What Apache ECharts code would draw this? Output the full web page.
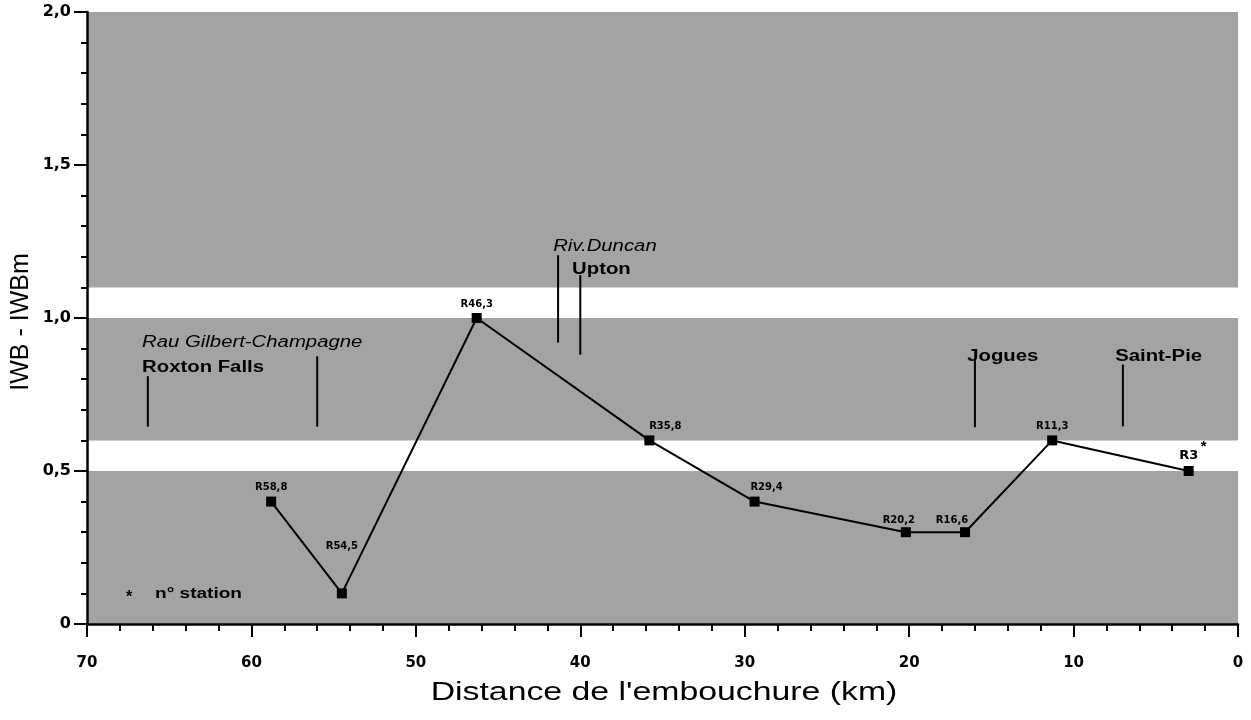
<!DOCTYPE html>
<html>
<head>
<meta charset="utf-8">
<title>IWB - IWBm</title>
<script src="https://cdn.jsdelivr.net/npm/echarts@6/dist/echarts.min.js"></script>
<style>
  html, body { margin: 0; padding: 0; background: #fff; }
  #chart { width: 1251px; height: 720px; }
</style>
</head>
<body>
<div id="chart"></div>
<script>
// Stations along the river: distance from the mouth (km) and IWB - IWBm value
const stationKm = [58.8, 54.5, 46.3, 35.8, 29.4, 20.2, 16.6, 11.3, 3.0];
const stationIWB = [0.4, 0.1, 1.0, 0.6, 0.4, 0.3, 0.3, 0.6, 0.5];
const stationNames = ['R58,8', 'R54,5', 'R46,3', 'R35,8', 'R29,4', 'R20,2', 'R16,6', 'R11,3', 'R3'];

// Towns and tributaries marked along the river (km from the mouth)
const placeNames = ['Roxton Falls', 'Rau Gilbert-Champagne', 'Riv.Duncan', 'Upton', 'Jogues', 'Saint-Pie'];
const placeKm = [66.3, 56.0, 41.35, 40.0, 16.0, 7.0];

// Shaded IWB - IWBm classes
const bandLow = [0, 0.6, 1.1];
const bandHigh = [0.5, 1.0, 2.0];

// Axis ticks
const xTicks = [70, 60, 50, 40, 30, 20, 10, 0];
const yTicks = [0, 0.5, 1.0, 1.5, 2.0];

// ---- drawing ----
const chart = echarts.init(document.getElementById('chart'), null, { renderer: 'canvas' });

const TEXT_FONT = '"Liberation Sans", Arial, sans-serif';
const TICK_FONT = '"DejaVu Sans", sans-serif';
const STRETCH = 1.27;

// label nudges for the station names (pixels)
const stationLabelOffset = { 1: [0, -33], 3: [16, 0], 4: [12, 0], 5: [-7, 2], 6: [-13, 2] };

// marker line extent and caption anchor for each place (in axis units)
const placeLayout = [
  { top: 0.81, bottom: 0.645, textKm: 66.65, textY: 0.838, weight: 'bold', style: 'normal' },
  { top: 0.875, bottom: 0.645, textKm: 66.65, textY: 0.92, weight: 'normal', style: 'italic' },
  { top: 1.205, bottom: 0.92, textKm: 41.65, textY: 1.233, weight: 'normal', style: 'italic' },
  { top: 1.14, bottom: 0.88, textKm: 40.5, textY: 1.158, weight: 'bold', style: 'normal' },
  { top: 0.865, bottom: 0.643, textKm: 16.47, textY: 0.874, weight: 'bold', style: 'normal' },
  { top: 0.848, bottom: 0.646, textKm: 7.47, textY: 0.874, weight: 'bold', style: 'normal' }
];

const stationData = stationKm.map((km, i) => {
  const item = { value: [km, stationIWB[i]], name: stationNames[i] };
  if (stationLabelOffset[i]) item.label = { offset: stationLabelOffset[i] };
  if (i === stationKm.length - 1) item.label = { fontSize: 13 };
  return item;
});

const bandAreas = bandLow.map((lo, i) => [{ yAxis: lo }, { yAxis: bandHigh[i] }]);

const yFmt = v => (v === 0 ? '0' : v.toFixed(1).replace('.', ','));

const option = {
  animation: false,
  backgroundColor: '#ffffff',
  grid: { left: 87, right: 13, top: 12, bottom: 96, containLabel: false, outerBoundsMode: 'none' },
  xAxis: {
    type: 'value',
    inverse: true,
    min: 0,
    max: 70,
    interval: 10,
    z: 10,
    axisLine: { onZero: false, lineStyle: { color: '#000', width: 2.5 } },
    axisTick: { show: true, length: 13, lineStyle: { color: '#000', width: 2 } },
    minorTick: { show: true, splitNumber: 5, length: 7, lineStyle: { color: '#000', width: 2 } },
    splitLine: { show: false },
    minorSplitLine: { show: false },
    axisLabel: {
      color: '#000', fontFamily: TICK_FONT, fontWeight: 'bold', fontSize: 15, margin: 32,
      formatter: v => (xTicks.indexOf(v) >= 0 ? String(v) : '')
    }
  },
  yAxis: {
    type: 'value',
    position: 'left',
    min: 0,
    max: 2,
    interval: 0.5,
    z: 10,
    axisLine: { show: true, onZero: false, lineStyle: { color: '#000', width: 2.5 } },
    axisTick: { show: true, length: 13, lineStyle: { color: '#000', width: 2 } },
    minorTick: { show: true, splitNumber: 5, length: 6, lineStyle: { color: '#000', width: 2 } },
    splitLine: { show: false },
    minorSplitLine: { show: false },
    axisLabel: {
      color: '#000', fontFamily: TICK_FONT, fontWeight: 'bold', fontSize: 16, margin: 16,
      formatter: v => (yTicks.indexOf(v) >= 0 ? yFmt(v) : '')
    }
  },
  graphic: [
    {
      type: 'text', x: 664, y: 693, scaleX: 1.3, z: 10,
      style: {
        text: "Distance de l'embouchure (km)", fill: '#000', font: '26px ' + TEXT_FONT,
        align: 'center', verticalAlign: 'middle'
      }
    },
    {
      type: 'text', x: 21, y: 322, rotation: Math.PI / 2, z: 10,
      style: {
        text: 'IWB - IWBm', fill: '#000', font: '25px ' + TEXT_FONT,
        align: 'center', verticalAlign: 'middle'
      }
    },
    {
      type: 'text', x: 126, y: 598, z: 10,
      style: { text: '*', fill: '#000', font: 'bold 16px ' + TEXT_FONT, align: 'left', verticalAlign: 'middle' }
    },
    {
      type: 'text', x: 155, y: 594, scaleX: STRETCH, z: 10,
      style: { text: 'n° station', fill: '#000', font: 'bold 15px ' + TEXT_FONT, align: 'left', verticalAlign: 'middle' }
    }
  ],
  series: [
    {
      type: 'line',
      data: stationData,
      z: 5,
      symbol: 'rect',
      symbolSize: 10,
      itemStyle: { color: '#000' },
      lineStyle: { color: '#000', width: 2 },
      label: {
        show: true,
        position: 'top',
        distance: 4,
        formatter: p => p.name,
        color: '#000',
        fontFamily: TICK_FONT,
        fontWeight: 'bold',
        fontSize: 10
      },
      markArea: {
        silent: true,
        z: 1,
        itemStyle: { color: '#a3a3a3' },
        data: bandAreas
      }
    },
    {
      // place markers: vertical stroke plus caption
      type: 'custom',
      clip: false,
      z: 6,
      data: placeKm.map((km, i) => [km, placeLayout[i].top, i]),
      encode: { x: 0, y: 1 },
      renderItem: (params, api) => {
        const km = api.value(0);
        const i = api.value(2);
        const p = placeLayout[i];
        const a = api.coord([km, p.top]);
        const b = api.coord([km, p.bottom]);
        const t = api.coord([p.textKm, p.textY]);
        return {
          type: 'group',
          children: [
            {
              type: 'line',
              shape: { x1: a[0], y1: a[1], x2: b[0], y2: b[1] },
              style: { stroke: '#000', lineWidth: 2 }
            },
            {
              type: 'text',
              x: t[0], y: t[1], scaleX: STRETCH,
              style: {
                text: placeNames[i], fill: '#000',
                font: p.style + ' ' + p.weight + ' 16px ' + TEXT_FONT,
                align: 'left', verticalAlign: 'middle'
              }
            }
          ]
        };
      }
    },
    {
      // asterisk next to the last station name
      type: 'custom',
      clip: false,
      z: 6,
      data: [[stationKm[stationKm.length - 1], stationIWB[stationIWB.length - 1]]],
      encode: { x: 0, y: 1 },
      renderItem: (params, api) => {
        const c = api.coord([api.value(0), api.value(1)]);
        return {
          type: 'text',
          x: c[0] + 12, y: c[1] - 24,
          style: { text: '*', fill: '#000', font: 'bold 15px ' + TEXT_FONT, align: 'left', verticalAlign: 'middle' }
        };
      }
    }
  ]
};

chart.setOption(option);
</script>
</body>
</html>
